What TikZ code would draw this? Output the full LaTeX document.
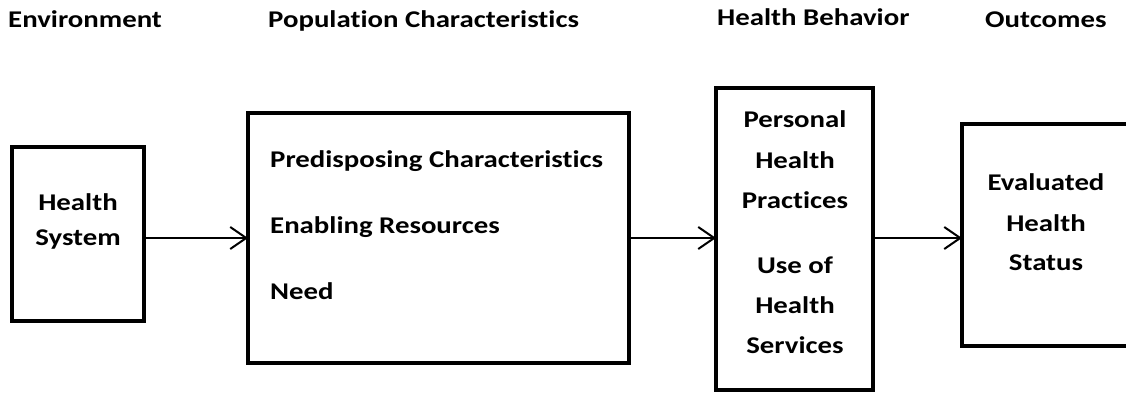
\documentclass[tikz,border=0pt]{standalone}
\usepackage{fontspec}
\setmainfont{Carlito}[FakeStretch=1.2, Ligatures=NoCommon]
\usetikzlibrary{arrows.meta}
\begin{document}
\begin{tikzpicture}[x=1pt,y=-1pt,
  box/.style={draw, line width=4.5pt, inner sep=0pt, outer sep=0pt},
  lbl/.style={inner sep=0pt, font=\fontsize{24}{29}\selectfont\bfseries},
  conn/.style={line width=2pt, -{Straight Barb[length=16pt,width=22pt,line width=2pt]}}]
\clip (0,0) rectangle (1126,394);
\useasboundingbox (0,0) rectangle (1126,394);
% headings
\node[lbl, anchor=base west] (h1) at (8,27) {Environment};
\node[lbl, anchor=base west] (h2) at (268,27) {Population Characteristics};
\node[lbl, anchor=base west] (h3) at (717,25) {Health Behavior};
\node[lbl, anchor=base west] (h4) at (985,27) {Outcomes};
% boxes
\node[box, minimum width=132pt, minimum height=174pt] (hs) at (78,234) {};
\node[box, minimum width=381pt, minimum height=250pt] (pop) at (438.5,238) {};
\node[box, minimum width=157pt, minimum height=302pt] (hb) at (794.5,239) {};
\node[box, minimum width=180pt, minimum height=222pt] (out) at (1052,235) {};
% box texts
\node[lbl, anchor=base] (t1) at (78,210) {Health};
\node[lbl, anchor=base] (t2) at (78,245) {System};
\node[lbl, anchor=base west] (t3) at (270,167) {Predisposing Characteristics};
\node[lbl, anchor=base west] (t4) at (270,233) {Enabling Resources};
\node[lbl, anchor=base west] (t5) at (270,299) {Need};
\node[lbl, anchor=base] (t6) at (795,127) {Personal};
\node[lbl, anchor=base] (t7) at (795,168) {Health};
\node[lbl, anchor=base] (t8) at (795,208) {Practices};
\node[lbl, anchor=base] (t9) at (795,273) {Use of};
\node[lbl, anchor=base] (t10) at (795,313) {Health};
\node[lbl, anchor=base] (t11) at (795,353) {Services};
\node[lbl, anchor=base] (t12) at (1046,190) {Evaluated};
\node[lbl, anchor=base] (t13) at (1046,231) {Health};
\node[lbl, anchor=base] (t14) at (1046,270) {Status};
% connectors
\draw[conn] (hs.east |- 0,238) -- (pop.west |- 0,238);
\draw[conn] (pop.east |- 0,238) -- (hb.west |- 0,238);
\draw[conn] (hb.east |- 0,238) -- (out.west |- 0,238);
\end{tikzpicture}
\end{document}
